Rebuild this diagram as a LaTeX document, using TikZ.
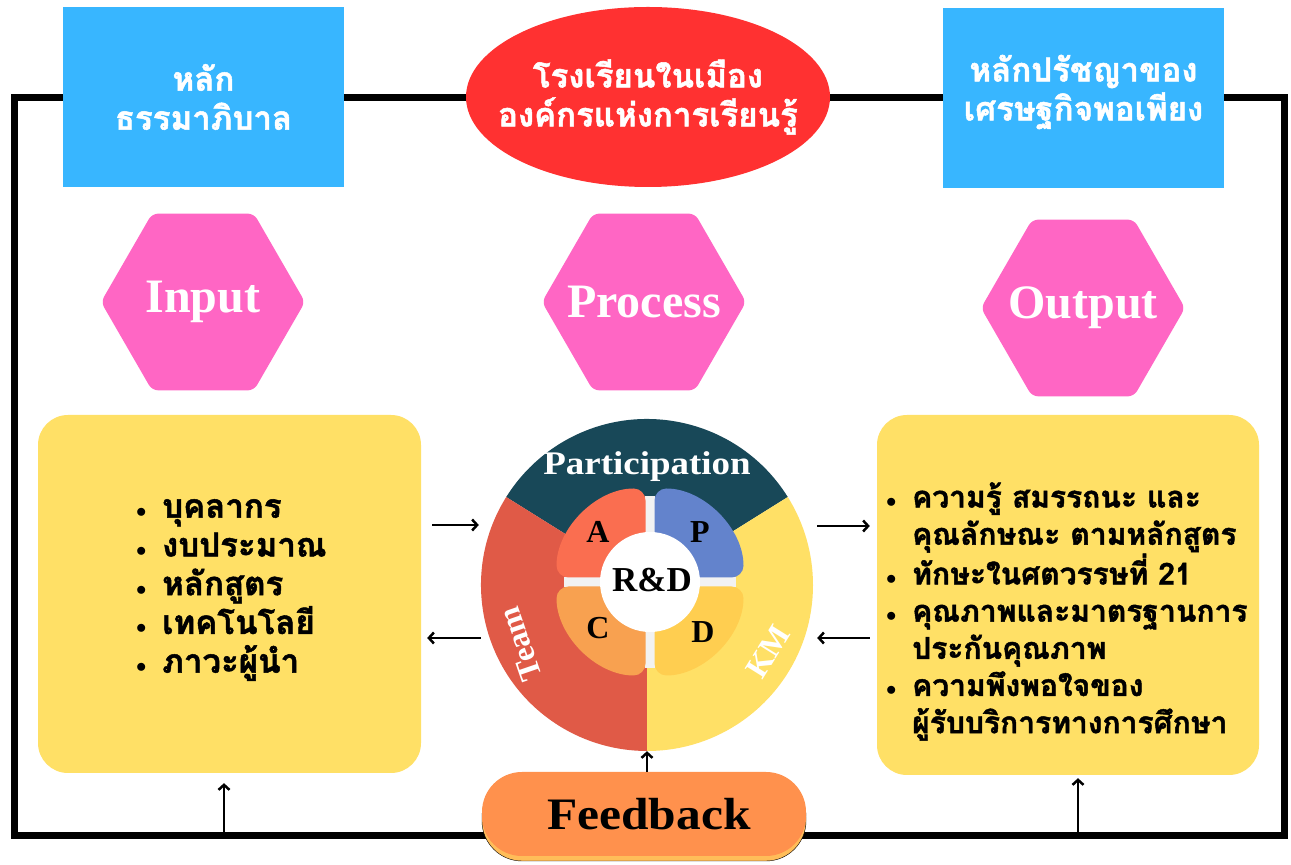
\documentclass[tikz,border=0pt]{standalone}
\usepackage{fontspec}
\setmainfont{Liberation Serif}
\newfontfamily\thaifont[Script=Thai,BoldFeatures={FakeBold=1.5}]{Loma}
\usepackage{tikz}
\usetikzlibrary{calc,positioning,shapes.geometric,arrows.meta,shadows}
\definecolor{skyblue}{RGB}{56,182,255}
\definecolor{schoolred}{RGB}{255,49,49}
\definecolor{hexpink}{RGB}{255,102,196}
\definecolor{boxyellow}{RGB}{255,224,102}
\definecolor{partteal}{RGB}{24,72,88}
\definecolor{teamred}{RGB}{224,90,71}
\definecolor{acol}{RGB}{250,110,80}
\definecolor{pcol}{RGB}{99,131,204}
\definecolor{ccol}{RGB}{248,161,80}
\definecolor{dcol}{RGB}{255,206,80}
\definecolor{gapgrey}{gray}{0.95}
\definecolor{fborange}{RGB}{255,145,77}
\definecolor{fbshadow}{RGB}{255,189,89}

\newcommand{\itm}{\makebox[26pt][l]{\fontsize{20}{20}\selectfont$\bullet$}}
\newcommand{\cnt}{\hspace*{26pt}}

\begin{document}
\begin{tikzpicture}[x=1pt,y=1pt]

\tikzset{titlebox/.style={fill=skyblue,minimum width=281pt,minimum height=180pt,inner sep=0pt},
thaititle/.style={text=white,align=center,font=\fontsize{33}{39}\selectfont\thaifont\bfseries},
hexnode/.style={regular polygon,regular polygon sides=6,fill=hexpink,minimum size=204pt,inner sep=0pt,rounded corners=6pt,text=white,font=\fontsize{48}{48}\selectfont\bfseries},
listbox/.style={fill=boxyellow,rounded corners=30pt,inner sep=0pt},
thailist/.style={align=left,anchor=west,inner sep=0pt},
wheeltext/.style={font=\fontsize{32}{32}\selectfont\bfseries},
arr/.style={line width=2.5pt,-{Straight Barb[length=5pt,width=11pt]}},
frameline/.style={line width=7pt}}

\useasboundingbox (0,0) rectangle (1291,865);
\fill[white] (0,0) rectangle (1291,865);

% Frame
\draw[frameline] (14.5,29) rectangle (1284,767);
\coordinate (inup) at (224,33);
\coordinate (outup) at (1078,33);

% Top row
\node[titlebox,thaititle] (gov) at (203.5,768) {หลัก\\ธรรมาภิบาล};
\node[titlebox] (sep) at (1083.5,767) {};
\node[thaititle] (septext) at (1083.5,773) {หลักปรัชญาของ\\เศรษฐกิจพอเพียง};
\node[ellipse,fill=schoolred,minimum width=364pt,minimum height=180pt,inner sep=0pt] (school) at (648,768) {};
\node[thaititle] (schooltext) at (school) {โรงเรียนในเมือง\\องค์กรแห่งการเรียนรู้};

% Hexagons
\node[hexnode] (inhex) at (203,563) {\makebox[0pt]{Input}};
\node[hexnode] (prochex) at (644,563) {\makebox[0pt]{Process}};
\node[hexnode] (outhex) at (1083,557) {\makebox[0pt]{Output}};

% Yellow boxes
\node[listbox,minimum width=383pt,minimum height=358pt] (inbox) at (229.5,271) {};
\node[listbox,minimum width=382pt,minimum height=360pt] (outbox) at (1068,270) {};
\node[thailist,font=\fontsize{33}{38.75}\selectfont\thaifont\bfseries] (inlist) at (136,275) {\itm บุคลากร\\\itm งบประมาณ\\\itm หลักสูตร\\\itm เทคโนโลยี\\\itm ภาวะผู้นำ};
\node[thailist,font=\fontsize{30}{37.2}\selectfont\thaifont\bfseries] (outlist) at (886,253.5) {\itm ความรู้ สมรรถนะ และ\\\cnt คุณลักษณะ ตามหลักสูตร\\\itm ทักษะในศตวรรษที่ 21\\\itm คุณภาพและมาตรฐานการ\\\cnt ประกันคุณภาพ\\\itm ความพึงพอใจของ\\\cnt ผู้รับบริการทางการศึกษา};

% Wheel
\coordinate (W) at (647,280);
\node[circle,minimum size=332pt,inner sep=0pt] (wheel) at (W) {};
\fill[partteal] (W) -- ++(32:166) arc[start angle=32,end angle=148,radius=166] -- cycle;
\fill[teamred] (W) -- ++(148:166) arc[start angle=148,end angle=270,radius=166] -- cycle;
\fill[boxyellow] (W) -- ++(270:166) arc[start angle=270,end angle=392,radius=166] -- cycle;
\node[wheeltext,text=white,font=\fontsize{33}{33}\selectfont\bfseries] (part) at (647,398) {\scalebox{1.12}[1]{Participation}};
\node[wheeltext,text=white,rotate=109] (team) at (520,221) {Team};
\node[wheeltext,text=white,rotate=58] (km) at (768,213) {KM};

% Inner ring
\coordinate (R) at (650,283);
\fill[gapgrey] ($(R)+(-86,-5)$) rectangle ($(R)+(86,5)$);
\fill[gapgrey] ($(R)+(-5,-86)$) rectangle ($(R)+(5,86)$);
\fill[pcol,rounded corners=12pt] ($(R)+(4.5,4.5)$) -- ++(89,0) arc[start angle=0,end angle=90,radius=89] -- cycle;
\fill[acol,rounded corners=12pt] ($(R)+(-4.5,4.5)$) -- ++(0,89) arc[start angle=90,end angle=180,radius=89] -- cycle;
\fill[ccol,rounded corners=12pt] ($(R)+(-4.5,-4.5)$) -- ++(-89,0) arc[start angle=180,end angle=270,radius=89] -- cycle;
\fill[dcol,rounded corners=12pt] ($(R)+(4.5,-4.5)$) -- ++(0,-89) arc[start angle=270,end angle=360,radius=89] -- cycle;
\fill[white] (R) circle (50);
\node[wheeltext,font=\fontsize{35}{35}\selectfont\bfseries] (rd) at (652,285) {R\&D};
\node[wheeltext] (qa) at (598,333) {A};
\node[wheeltext] (qp) at (700,333) {P};
\node[wheeltext] (qc) at (598,237) {C};
\node[wheeltext] (qd) at (703,233) {D};

% Feedback
\node[fill=fborange,rounded corners=40pt,minimum width=324pt,minimum height=84pt,
  copy shadow={shadow xshift=0pt,shadow yshift=-5pt,fill=fbshadow},
  font=\fontsize{45}{45}\selectfont\bfseries] (fb) at (644,51) {\hspace*{10pt}\scalebox{1.1}[1]{Feedback}};

% Arrows
\draw[arr,shorten <=11pt,shorten >=2pt] (inbox.east |- 0,340) -- (wheel.west |- 0,340);
\draw[arr,shorten >=6pt] (wheel.west |- 0,227) -- (inbox.east |- 0,227);
\draw[arr,shorten <=4pt,shorten >=7pt] (wheel.east |- 0,339) -- (outbox.west |- 0,339);
\draw[arr,shorten <=7pt,shorten >=4pt] (outbox.west |- 0,227) -- (wheel.east |- 0,227);
\draw[arr] (fb.north -| wheel.south) -- (wheel.south);
\draw[arr,shorten >=10pt] (inup) -- (inup |- inbox.south);
\draw[arr,shorten >=3pt] (outup) -- (outup |- outbox.south);

\end{tikzpicture}
\end{document}
